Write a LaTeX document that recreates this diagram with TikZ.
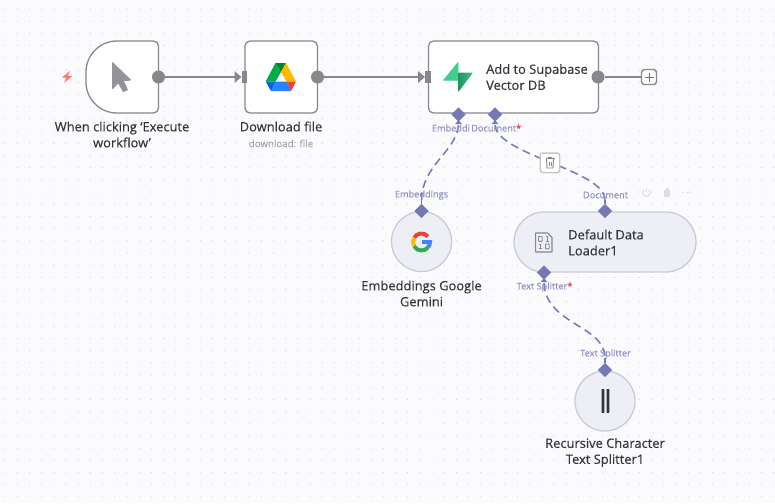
\documentclass[tikz,border=0pt]{standalone}
\usepackage{fontspec}
\setmainfont{Open Sans}[FakeBold=0.2]
\usetikzlibrary{arrows.meta,shapes.geometric,shapes.misc}
\definecolor{bgc}{HTML}{FBFBFE}
\definecolor{griddot}{HTML}{D2D3DB}
\definecolor{wire}{HTML}{87878D}
\definecolor{aiport}{HTML}{7678B4}
\definecolor{ailabel}{HTML}{8F90C4}
\definecolor{aifill}{HTML}{EEEFF5}
\definecolor{aiborder}{HTML}{C9CBDC}
\definecolor{ink}{HTML}{33333D}
\definecolor{mute}{HTML}{A5A5AD}
\definecolor{boltc}{HTML}{FF7468}
\definecolor{reqc}{HTML}{E8384F}
\definecolor{driveG}{HTML}{00AC47}
\definecolor{driveD}{HTML}{00832D}
\definecolor{driveY}{HTML}{FFBA00}
\definecolor{driveB}{HTML}{2684FC}
\definecolor{driveR}{HTML}{EA4335}
\definecolor{driveN}{HTML}{0066DA}
\definecolor{supaL}{HTML}{3ECF8E}
\definecolor{supaD}{HTML}{249361}
\definecolor{gR}{HTML}{EA4335}
\definecolor{gY}{HTML}{FBBC05}
\definecolor{gG}{HTML}{34A853}
\definecolor{gB}{HTML}{4285F4}
\tikzset{
  x=1pt,y=-1pt,
  card/.style={draw=wire,fill=white,line width=1.3pt,rounded corners=5pt,minimum width=#1,minimum height=72pt,inner sep=0pt},
  aicircle/.style={circle,draw=aiborder,fill=aifill,line width=1.3pt,minimum size=60pt,inner sep=0pt},
  aipill/.style={rounded rectangle,draw=aiborder,fill=aifill,line width=1.3pt,minimum width=182pt,minimum height=60pt,inner sep=0pt},
  outdot/.style={circle,fill=wire,minimum size=13pt,inner sep=0pt},
  inport/.style={rectangle,fill=wire,minimum width=5.6pt,minimum height=12pt,inner sep=0pt},
  aidiamond/.style={diamond,fill=aiport,minimum size=14.5pt,inner sep=0pt,aspect=1},
  wireline/.style={draw=wire,line width=1.5pt},
  flow/.style={wireline,-{Triangle[length=7pt,width=11.5pt]}},
  dashline/.style={draw=aiport,line width=1.5pt,dash pattern=on 8pt off 5pt},
  stem/.style={draw=aiport,line width=1.5pt},
  title/.style={text=ink,font=\fontsize{12.9}{16}\selectfont,align=center,inner sep=0pt},
  titleleft/.style={text=ink,font=\fontsize{12.9}{16}\selectfont,align=left,inner sep=0pt,anchor=west},
  sublabel/.style={text=mute,font=\fontsize{9.7}{11}\selectfont,inner sep=0pt},
  portlabel/.style={text=ailabel,font=\fontsize{9.2}{10}\selectfont,inner sep=0pt},
}
\begin{document}
\begin{tikzpicture}
\useasboundingbox (0,0) rectangle (775,503);
\fill[bgc] (0,0) rectangle (775,503);
% dotted canvas
\foreach \i in {0,...,63}{\foreach \j in {0,...,41}{
  \fill[griddot] ({5+12.2*\i},{9+12.2*\j}) circle[radius=0.6pt];
}}
% trigger node (D-shape)
\draw[draw=wire,fill=white,line width=1.3pt]
  (153.5,41) arc[start angle=90,end angle=0,radius=5pt] -- (158.5,108) arc[start angle=0,end angle=-90,radius=5pt]
  -- (117,113) arc[start angle=270,end angle=180,radius=31pt] -- (86,72) arc[start angle=180,end angle=90,radius=31pt] -- cycle;
% bolt
\fill[boltc] (70,71) -- (62,77.5) -- (66.5,77.5) -- (64,82.7) -- (72.3,76) -- (67.5,76) -- cycle;
% cursor
\fill[fill=wire!90!white,draw=wire!90!white,line width=0.8pt,line join=round]
  (112.6,62.6) -- (112.6,88.8) -- (118.3,82.7) -- (123.3,91.6) -- (127.4,89.8) -- (123.3,80.9) -- (130.6,80) -- cycle;
% nodes
\node[card=72.5pt] (drive) at (281.2,77) {};
\node[card=170pt] (supa) at (513.5,77) {};
\node[aicircle] (gem) at (421.5,241.5) {};
\node[aipill] (loader) at (605,242) {};
\node[aicircle] (split) at (605,401) {};
% Google Drive logo
\fill[driveG] (275.5,63) -- (281,72) -- (275.5,81.5) -- (265.7,81.5) -- cycle;
\fill[driveD] (275.5,63) -- (286,63) -- (281,72) -- cycle;
\fill[driveY] (286,63) -- (296,81.5) -- (286.5,81.5) -- (281,72) -- cycle;
\fill[driveB] (275.5,81.5) -- (286.5,81.5) -- (291,91) -- (271,91) -- cycle;
\fill[driveR] (286.5,81.5) -- (296,81.5) -- (291,91) -- cycle;
\fill[driveN] (265.7,81.5) -- (275.5,81.5) -- (271,91) -- cycle;
% Supabase logo
\fill[supaL,draw=supaL,line width=0.6pt,line join=round] (458,62.5) -- (443.5,80.2) -- (458,80.2) -- cycle;
\shade[left color=supaD,right color=supaL!85!supaD]
  (458.5,72.7) -- (472.9,72.7) -- (458.5,91.9) -- cycle;
% Google G
\begin{scope}[line width=3.9pt]
\draw[gR] (428,236.5) arc[start angle=40,end angle=150,radius=8.5pt];
\draw[gY] (414.1,237.75) arc[start angle=150,end angle=210,radius=8.5pt];
\draw[gG] (414.1,246.25) arc[start angle=210,end angle=320,radius=8.5pt];
\draw[gB] (428,247.5) arc[start angle=320,end angle=360,radius=8.5pt] -- (422,242);
\end{scope}
% data loader icon
\draw[wire,line width=1.2pt,line join=round] (535.6,233) -- (547.5,233) -- (552,237.5) -- (552,252) -- (535.6,252) -- cycle;
\begin{scope}[wire,line width=0.9pt]
\draw[rounded corners=0.6pt] (538.5,236.5) rectangle (542.2,241.3);
\draw (546,236.5) -- (547.5,236.5) -- (547.5,241.3) (545.8,241.3) -- (549.2,241.3);
\draw (539,244) -- (540.5,244) -- (540.5,248.8) (538.8,248.8) -- (542.2,248.8);
\draw[rounded corners=0.6pt] (545.5,244) rectangle (549.2,248.8);
\end{scope}
% splitter icon
\fill[ink,rounded corners=0.5pt] (601.7,389) rectangle (604.3,412.8);
\fill[ink,rounded corners=0.5pt] (606.7,389) rectangle (609.3,412.8);
% ports
\node[outdot] (trigout) at (158.5,77) {};
\node[inport] (drivein) at (244.5,77) {};
\node[outdot] (driveout) at (317.5,77) {};
\node[inport] (supain) at (428,77) {};
\node[outdot] (supaout) at (598,77) {};
\node[draw=wire,fill=white,line width=1.4pt,rounded corners=3pt,minimum size=15pt,inner sep=0pt] (plus) at (649,77) {};
\draw[wire!85!black,line width=0.8pt] (644.5,77) -- (653.5,77) (649,72.5) -- (649,81.5);
\draw[flow] (trigout) -- (drivein.west);
\draw[flow] (driveout) -- (supain.west);
\draw[wireline] (supaout) -- (plus);
% AI ports
\node[aidiamond] (pemb) at (458.5,114.5) {};
\node[aidiamond] (pdoc) at (495,114.5) {};
\node[aidiamond] (gemtop) at (421.5,211) {};
\node[aidiamond] (loadtop) at (605,211) {};
\node[aidiamond] (loadbot) at (544,272.5) {};
\node[aidiamond] (splittop) at (605,370) {};
\coordinate (embA) at (458.5,125);
\coordinate (embB) at (421.5,200);
\coordinate (docA) at (495,125);
\coordinate (docB) at (605,200);
\coordinate (txtA) at (544,283);
\coordinate (txtB) at (605,358);
\draw[dashline] (embA) .. controls (456,152) and (422,165) .. (embB);
\draw[dashline] (docA) .. controls (497,155) and (605,170) .. (docB);
\draw[dashline] (txtA) .. controls (546,325) and (605,325) .. (txtB);
\draw[stem] (gemtop) -- (embB);
\draw[stem] (loadtop) -- (docB);
\draw[stem] (splittop) -- (txtB);
\fill[aiport] (458.5,120) -- (455.2,124) -- (461.8,124) -- cycle;
\fill[aiport] (495,120) -- (491.7,124) -- (498.3,124) -- cycle;
\fill[aiport] (544,278) -- (540.7,282) -- (547.3,282) -- cycle;
% trash button on connector
\node[draw=black!22,fill=white,line width=1.4pt,rounded corners=2.5pt,minimum size=19.5pt,inner sep=0pt] (trash) at (550,162.8) {};
\begin{scope}[wire,line width=0.9pt]
\draw (545.5,158.8) -- (554.5,158.8) (548.3,158.8) -- (548.3,157.3) -- (551.7,157.3) -- (551.7,158.8);
\draw[fill=white] (546.5,159) -- (547,168) -- (553,168) -- (553.5,159);
\draw (549,161.5) -- (549,165.5) (551,161.5) -- (551,165.5);
\end{scope}
% faint hover toolbar
\begin{scope}[black!13,line width=1pt]
\draw (644,189.8) arc[start angle=130,end angle=410,radius=3.8pt];
\draw (646.7,188) -- (646.7,192);
\fill (663.8,189.5) rectangle (670.2,197);
\fill (665.5,188) rectangle (668.5,189.5);
\fill (683,192.5) circle[radius=0.9pt] (686.7,192.5) circle[radius=0.9pt] (690.4,192.5) circle[radius=0.9pt];
\end{scope}
% titles
\node[title] (t1) at (122,134.5) {When clicking ‘Execute\\workflow’};
\node[title] (t2) at (281,126.5) {Download file};
\node[sublabel] (t2s) at (281,143.5) {download: file};
\node[titleleft] (t3) at (486,77) {Add to Supabase\\Vector DB};
\node[titleleft] (t4) at (568,242.5) {Default Data\\Loader1};
\node[title] (t5) at (421.5,293.5) {Embeddings Google\\Gemini};
\node[title] (t6) at (605,452.5) {Recursive Character\\Text Splitter1};
% port labels
\node[portlabel,anchor=west] (l1) at (431.7,128) {Embeddi};
\node[portlabel,anchor=west] (l2) at (471,128) {Document\textcolor{reqc}{*}};
\node[portlabel] (l3) at (421.5,195) {Embeddings};
\node[portlabel] (l4) at (605.5,195) {Document};
\node[portlabel,anchor=west] (l5) at (516.5,287) {Text Splitter\textcolor{reqc}{*}};
\node[portlabel] (l6) at (605.5,354) {Text Splitter};
\end{tikzpicture}
\end{document}
